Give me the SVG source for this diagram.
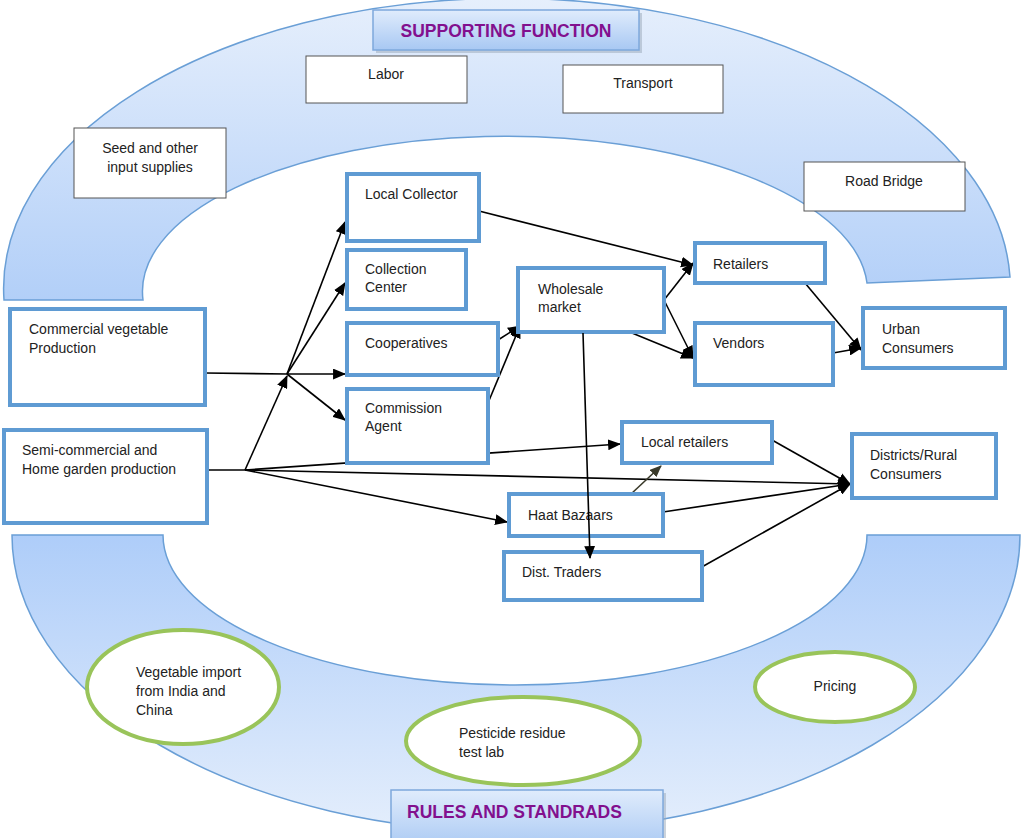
<svg xmlns="http://www.w3.org/2000/svg" width="1022" height="838" viewBox="0 0 1022 838">
<defs>
<linearGradient id="gTop" x1="0" y1="0" x2="0" y2="1"><stop offset="0" stop-color="#e6effc"/><stop offset="1" stop-color="#b2cff8"/></linearGradient>
<linearGradient id="gBot" x1="0" y1="0" x2="0" y2="1"><stop offset="0" stop-color="#aecdf9"/><stop offset="1" stop-color="#e4eefc"/></linearGradient>
<linearGradient id="gBan" x1="0" y1="0" x2="0" y2="1"><stop offset="0" stop-color="#e0ecfc"/><stop offset="1" stop-color="#a8c8f3"/></linearGradient>
<marker id="ah" viewBox="0 0 12 10" refX="11" refY="5" markerWidth="13" markerHeight="11" markerUnits="userSpaceOnUse" orient="auto"><path d="M0,0 L12,5 L0,10 z" fill="#000"/></marker>
<marker id="ah2" viewBox="0 0 12 10" refX="11" refY="5" markerWidth="12" markerHeight="10" markerUnits="userSpaceOnUse" orient="auto"><path d="M0,0 L12,5 L0,10 z" fill="#3a3a2a"/></marker>
</defs>
<style>
.band{stroke:#6a9fd6;stroke-width:1.5}
.ban{fill:url(#gBan);stroke:#7ea8dc;stroke-width:1.5}
.bt{font-family:"Liberation Sans",Arial,sans-serif;font-weight:bold;font-size:17.5px;fill:#82108e}
.sb{fill:#fff;stroke:#555;stroke-width:1}
.nb{fill:#fff;stroke:#5f9bd3;stroke-width:4}
.el{fill:#fff;stroke:#99c45a;stroke-width:4}
.t{font-family:"Liberation Sans",Arial,sans-serif;font-size:14px;fill:#222}
.tc{text-anchor:middle}
.c{fill:none;stroke:#000;stroke-width:1.6}
.ca{fill:none;stroke:#000;stroke-width:1.6;marker-end:url(#ah)}
</style>
<rect width="1022" height="838" fill="#fff"/>
<g id="bands">
<path class="band" fill="url(#gTop)" d="M4 300 A503 290 0 0 1 1010 277 L867 283 A362 155 0 0 0 143 300 Z"/>
<path class="band" fill="url(#gBot)" d="M12 535 L163 535 A352 150 0 0 0 867 535 L1020 535 A504 297 0 0 1 12 535 Z"/>
</g>
<g id="banner-supporting">
<rect x="376" y="13" width="266" height="40" fill="#9aa8b8" opacity="0.5"/>
<rect class="ban" x="373" y="10" width="266" height="40"/>
<text class="bt tc" x="506" y="37">SUPPORTING FUNCTION</text>
</g>
<g id="banner-rules">
<rect x="394" y="793" width="272" height="60" fill="#9aa8b8" opacity="0.5"/>
<rect class="ban" x="391" y="790" width="272" height="60"/>
<text class="bt" x="407" y="818">RULES AND STANDRADS</text>
</g>
<g id="labor"><rect class="sb" x="306" y="56" width="161" height="47"/><text class="t tc" x="386" y="79">Labor</text></g>
<g id="transport"><rect class="sb" x="563" y="65" width="160" height="48"/><text class="t tc" x="643" y="88">Transport</text></g>
<g id="seed"><rect class="sb" x="74" y="128" width="152" height="70"/><text class="t tc" x="150" y="153">Seed and other</text><text class="t tc" x="150" y="172">input supplies</text></g>
<g id="road-bridge"><rect class="sb" x="804" y="162" width="161" height="49"/><text class="t tc" x="884" y="186">Road Bridge</text></g>
<g id="connectors">
<path class="c" d="M205 373 L287 374"/>
<path class="ca" d="M287 374 L345 374"/>
<path class="ca" d="M287 374 L345 222"/>
<path class="ca" d="M287 374 L345 283"/>
<path class="ca" d="M287 374 L345 420"/>
<path class="c" d="M195 470 L245 470"/>
<path class="ca" d="M245 470 L287 376"/>
<path class="ca" d="M245 470 L620 444"/>
<path class="ca" d="M245 470 L850 484"/>
<path class="ca" d="M245 470 L507 522"/>
<path class="ca" d="M479 211 L693 265"/>
<path class="ca" d="M498 340 L520 326"/>
<path class="ca" d="M488 403 L520 326"/>
<path class="ca" d="M664 300 L693 263"/>
<path class="ca" d="M664 300 L693 358"/>
<path class="ca" d="M632 333 L693 358"/>
<path class="ca" d="M805 283 L861 350"/>
<path class="ca" d="M833 353 L861 348"/>
<path class="ca" d="M772 440 L850 484"/>
<path class="ca" d="M663 512 L850 484"/>
<path class="ca" d="M700 568 L850 484"/>
<path d="M631 494 L661 466" fill="none" stroke="#3a3a2a" stroke-width="1.6" marker-end="url(#ah2)"/>
</g>
<g id="local-collector"><rect class="nb" x="347" y="174" width="132" height="67"/><text class="t" x="365" y="199">Local Collector</text></g>
<g id="collection-center"><rect class="nb" x="347" y="250" width="119" height="59"/><text class="t" x="365" y="274">Collection</text><text class="t" x="365" y="292">Center</text></g>
<g id="cooperatives"><rect class="nb" x="347" y="323" width="151" height="52"/><text class="t" x="365" y="348">Cooperatives</text></g>
<g id="commission-agent"><rect class="nb" x="347" y="389" width="141" height="74"/><text class="t" x="365" y="413">Commission</text><text class="t" x="365" y="431">Agent</text></g>
<g id="commercial"><rect class="nb" x="10" y="309" width="195" height="96"/><text class="t" x="29" y="334">Commercial vegetable</text><text class="t" x="29" y="353">Production</text></g>
<g id="semi-commercial"><rect class="nb" x="4" y="430" width="203" height="93"/><text class="t" x="22" y="455">Semi-commercial and</text><text class="t" x="22" y="474">Home garden production</text></g>
<g id="wholesale"><rect class="nb" x="518" y="268" width="146" height="64"/><text class="t" x="538" y="294">Wholesale</text><text class="t" x="538" y="312">market</text></g>
<g id="retailers"><rect class="nb" x="695" y="243" width="130" height="40"/><text class="t" x="713" y="269">Retailers</text></g>
<g id="vendors"><rect class="nb" x="695" y="323" width="138" height="62"/><text class="t" x="713" y="348">Vendors</text></g>
<g id="urban-consumers"><rect class="nb" x="863" y="308" width="142" height="60"/><text class="t" x="882" y="334">Urban</text><text class="t" x="882" y="353">Consumers</text></g>
<g id="local-retailers"><rect class="nb" x="622" y="422" width="150" height="41"/><text class="t" x="641" y="447">Local retailers</text></g>
<g id="districts-rural"><rect class="nb" x="852" y="434" width="144" height="64"/><text class="t" x="870" y="460">Districts/Rural</text><text class="t" x="870" y="479">Consumers</text></g>
<g id="haat-bazaars"><rect class="nb" x="509" y="494" width="154" height="42"/><text class="t" x="528" y="520">Haat Bazaars</text></g>
<g id="dist-traders"><rect class="nb" x="504" y="552" width="198" height="48"/><text class="t" x="522" y="577">Dist. Traders</text></g>
<g id="connectors-front">
<path class="ca" d="M583 333 L590 558"/>
</g>
<g id="vegetable-import"><ellipse class="el" cx="183" cy="687" rx="96" ry="57"/><text class="t" x="136" y="677">Vegetable import</text><text class="t" x="136" y="696">from India and</text><text class="t" x="136" y="715">China</text></g>
<g id="pesticide-lab"><ellipse class="el" cx="523" cy="741" rx="117" ry="44"/><text class="t" x="459" y="738">Pesticide residue</text><text class="t" x="459" y="757">test lab</text></g>
<g id="pricing"><ellipse class="el" cx="835" cy="687" rx="80" ry="35"/><text class="t tc" x="835" y="691">Pricing</text></g>
</svg>
